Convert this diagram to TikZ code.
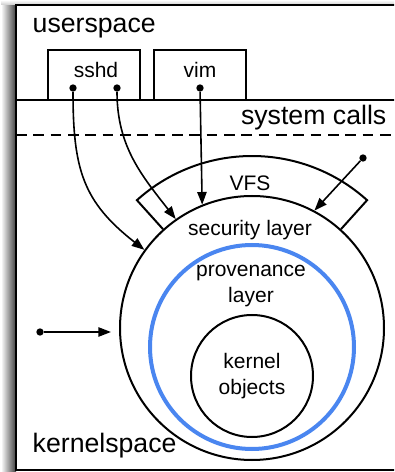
\documentclass[tikz,border=0pt]{standalone}
\usepackage{fontspec}
\setmainfont{Liberation Sans}
\usetikzlibrary{arrows.meta,positioning,calc}
\definecolor{provblue}{HTML}{4A86F0}

\begin{document}
\begin{tikzpicture}[
  x=0.75pt,y=0.75pt,
  big/.style={font=\fontsize{20}{24}\selectfont},
  small/.style={font=\fontsize{15.75}{19.5}\selectfont,align=center},
  procbox/.style={draw,line width=1.3pt,minimum width=69pt,minimum height=37.5pt,inner sep=0pt},
  layer/.style={draw,circle,line width=1.5pt,inner sep=0pt},
  dot/.style={circle,fill,inner sep=0pt,minimum size=5.5pt},
  call/.style={line width=1.2pt,-{Triangle[length=9.5pt,width=7pt]}}
]
\useasboundingbox (0,0) rectangle (394,472);
\clip (0,0) rectangle (394,472);

\shade[left color=white,right color=black!75] (1,0) rectangle (16,467);
\shade[top color=white,bottom color=black!20] (1,467) rectangle (394,472);
\fill[white] (16,2) rectangle (400,467);
\draw[line width=1.6pt] (400,2) -- (16,2) -- (16,467) -- (400,467);
\draw[line width=1.5pt] (16,372) -- (400,372);
\draw[line width=1.5pt,dash pattern=on 8pt off 5pt] (16,337) -- (400,337);

\node[big,anchor=base west] (ulbl) at (28,439) {userspace};
\node[big,anchor=base east] (sclbl) at (391,347) {system calls};
\node[big,anchor=base west] (klbl) at (28,19) {kernelspace};

\node[procbox] (sshd) at (94,397) {};
\node[procbox] (vim) at (200,397) {};
\node[small] (sshdlbl) at (96,402) {sshd};
\node[small] (vimlbl) at (200,402) {vim};

\node[layer,minimum size=198pt] (seclayer) at (252,144) {};
\node[layer,draw=provblue,line width=3pt,minimum size=153pt] (provlayer) at (252,125) {};
\node[layer,small,minimum size=91.5pt] (kobj) at (252,96) {kernel\\objects};
\node[small] (seclbl) at (250,242) {security layer};
\node[small] (provlbl) at (251,186) {provenance\\layer};

\draw[line width=1.5pt] (seclayer.132) -- ($(seclayer.center)+(132:172)$)
  arc[start angle=132,end angle=48,radius=172] -- (seclayer.48);
\node[small] (vfslbl) at (250,289) {VFS};

\node[dot] (s1) at (73,384) {};
\node[dot] (s2) at (117,384) {};
\node[dot] (v) at (200,384) {};
\node[dot] (rd) at (363,314) {};
\node[dot] (ld) at (40,140) {};

\draw[call] (s1) to[out=-90,in=142,looseness=1.15] (seclayer.144);
\draw[call] (s2) to[out=-90,in=128] (seclayer.125);
\draw[call] (v) -- (seclayer.112);
\draw[call] (rd) -- (seclayer.62);
\draw[call,shorten >=6pt] (ld) -- (ld -| seclayer.west);
\end{tikzpicture}
\end{document}
